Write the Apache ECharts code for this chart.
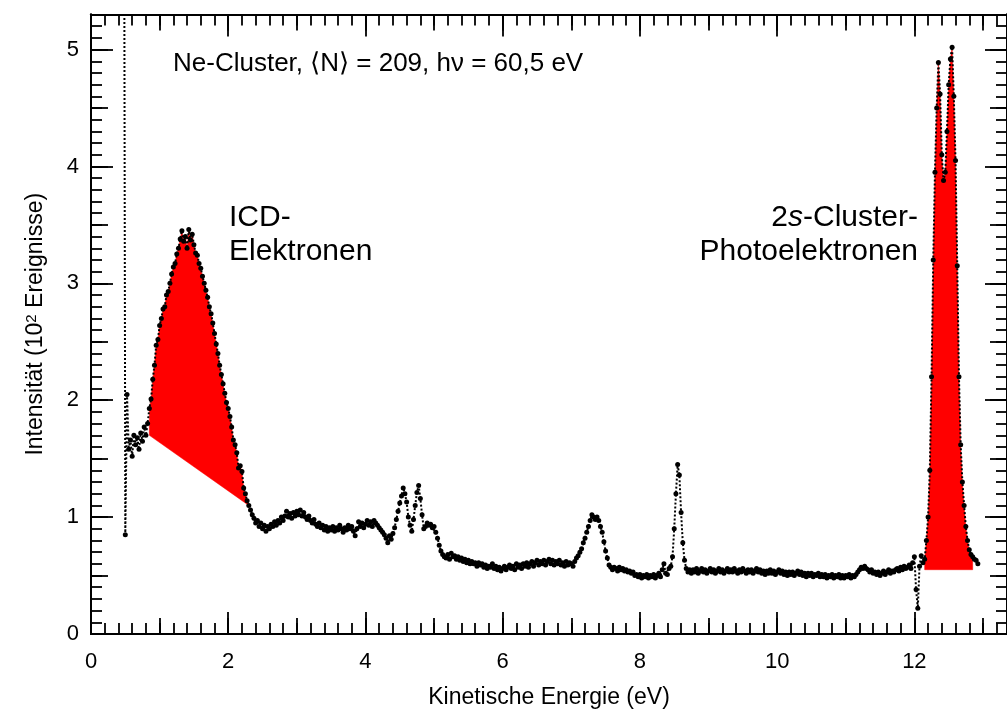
<!DOCTYPE html>
<html><head><meta charset="utf-8">
<script src="https://cdn.jsdelivr.net/npm/echarts@6/dist/echarts.min.js"></script>
<style>html,body{margin:0;padding:0;background:#fff}#c{width:1007px;height:716px}</style>
</head><body><div id="c"></div>
<script>
// ---- data (kinetic energy grid step, eV) ----
const energyStep = 0.025;

// 0.475 .. 0.825 eV (first point is off-scale: vertical dotted line)
const spikeStart = 0.475;
const spikeIntensity = [9.0, 0.85, 2.05, 1.58, 1.66, 1.52, 1.70, 1.62, 1.68, 1.58, 1.72, 1.65, 1.77, 1.70, 1.80];

// 0.850 .. 2.300 eV  (ICD electrons)
const icdStart = 0.850;
const icdIntensity = [
  1.93, 2.01, 2.18, 2.30, 2.47, 2.52, 2.64, 2.70,
  2.78, 2.80, 2.90, 2.93, 3.00, 3.08, 3.14, 3.17,
  3.25, 3.30, 3.38, 3.45, 3.36, 3.40, 3.30, 3.46,
  3.37, 3.42, 3.33, 3.26, 3.24, 3.17, 3.13, 3.06,
  3.00, 2.94, 2.88, 2.80, 2.74, 2.66, 2.57, 2.48,
  2.40, 2.30, 2.22, 2.14, 2.06, 1.98, 1.93, 1.86,
  1.77, 1.66, 1.62, 1.55, 1.42, 1.44, 1.39, 1.25,
  1.20, 1.14, 1.10
];

// 2.325 .. 6.000 eV
const midStart = 2.325;
const midIntensity = [
  1.06, 1.02, 0.99, 0.95, 0.97, 0.92, 0.95, 0.90,
  0.93, 0.88, 0.92, 0.90, 0.94, 0.92, 0.96, 0.93,
  0.97, 0.95, 1.00, 0.97, 1.01, 1.05, 1.00, 1.03,
  0.99, 1.04, 1.01, 1.05, 1.02, 1.06, 1.01, 1.04,
  1.00, 0.98, 1.01, 0.97, 0.95, 0.98, 0.94, 0.92,
  0.95, 0.91, 0.93, 0.89, 0.92, 0.88, 0.91, 0.89,
  0.92, 0.88, 0.91, 0.89, 0.93, 0.90, 0.87, 0.91,
  0.89, 0.93, 0.90, 0.92, 0.88, 0.84, 0.90, 0.96,
  0.92, 0.95, 0.91, 0.94, 0.97, 0.93, 0.96, 0.92,
  0.97, 0.95, 0.93, 0.91, 0.89, 0.87, 0.85, 0.82,
  0.78, 0.84, 0.81, 0.86, 0.91, 0.98, 1.05, 1.12,
  1.18, 1.25, 1.20, 1.13, 1.00, 0.93, 0.88, 0.98,
  1.10, 1.21, 1.27, 1.16, 1.02, 0.90, 0.92, 0.95,
  0.93, 0.94, 0.91, 0.92, 0.87, 0.82, 0.76, 0.71,
  0.68, 0.66, 0.65, 0.68, 0.64, 0.69, 0.66, 0.67,
  0.64, 0.66, 0.63, 0.65, 0.62, 0.64, 0.61, 0.63,
  0.60, 0.62, 0.60, 0.61, 0.58, 0.61, 0.59, 0.60,
  0.57, 0.59, 0.56, 0.58, 0.57, 0.60, 0.56, 0.58,
  0.55, 0.57, 0.54, 0.56
];

// 6.025 .. 9.300 eV
const highStart = 6.025;
const highIntensity = [
  0.58, 0.55, 0.57, 0.59, 0.56, 0.58, 0.55, 0.60,
  0.57, 0.59, 0.56, 0.60, 0.58, 0.61, 0.57, 0.60,
  0.62, 0.58, 0.61, 0.63, 0.59, 0.62, 0.60, 0.63,
  0.59, 0.62, 0.64, 0.60, 0.63, 0.59, 0.62, 0.60,
  0.63, 0.59, 0.61, 0.58, 0.62, 0.59, 0.61, 0.60,
  0.58, 0.62, 0.65, 0.67, 0.70, 0.73, 0.78, 0.82,
  0.87, 0.92, 0.97, 1.02, 1.00, 0.98, 1.00, 0.97,
  0.92, 0.87, 0.79, 0.71, 0.65, 0.59, 0.57, 0.55,
  0.57, 0.56, 0.54, 0.57, 0.55, 0.56, 0.54, 0.55,
  0.53, 0.54, 0.52, 0.53, 0.50, 0.51, 0.49, 0.51,
  0.48, 0.50, 0.49, 0.51, 0.48, 0.50, 0.49, 0.51,
  0.48, 0.50, 0.52, 0.49, 0.55, 0.60, 0.52, 0.51,
  0.56, 0.58, 0.66, 0.90, 1.20, 1.45, 1.36, 1.04,
  0.78, 0.63, 0.56, 0.53, 0.55, 0.52, 0.55, 0.53,
  0.56, 0.52, 0.54, 0.56, 0.53, 0.55, 0.52, 0.54,
  0.56, 0.53, 0.55, 0.52, 0.54, 0.56, 0.53, 0.55,
  0.52, 0.54, 0.56, 0.53
];

// 9.325 .. 12.150 eV
const lateStart = 9.325;
const lateIntensity = [
  0.55, 0.53, 0.56, 0.54, 0.52, 0.55, 0.53, 0.56,
  0.54, 0.52, 0.55, 0.53, 0.55, 0.52, 0.54, 0.56,
  0.53, 0.55, 0.52, 0.54, 0.51, 0.54, 0.52, 0.55,
  0.52, 0.54, 0.51, 0.53, 0.55, 0.52, 0.54, 0.51,
  0.53, 0.50, 0.53, 0.51, 0.53, 0.50, 0.52, 0.54,
  0.51, 0.53, 0.50, 0.52, 0.49, 0.52, 0.50, 0.52,
  0.49, 0.51, 0.50, 0.52, 0.49, 0.51, 0.49, 0.51,
  0.48, 0.50, 0.49, 0.51, 0.48, 0.50, 0.49, 0.51,
  0.48, 0.50, 0.48, 0.50, 0.49, 0.51, 0.48, 0.50,
  0.49, 0.51, 0.53, 0.55, 0.57, 0.56, 0.58, 0.56,
  0.55, 0.53, 0.55, 0.52, 0.53, 0.51, 0.53, 0.50,
  0.52, 0.54, 0.51, 0.53, 0.55, 0.52, 0.54, 0.53,
  0.55, 0.56, 0.54, 0.57, 0.55, 0.58, 0.56, 0.57,
  0.59, 0.56, 0.61, 0.66, 0.38, 0.22, 0.58, 0.67,
  0.61, 0.64
];

// 12.175 .. 12.925 eV (2s cluster photoelectrons)
const clusterStart = 12.175;
const clusterIntensity = [
  0.80, 1.00, 1.40, 2.20, 3.20, 3.95, 4.50, 4.89,
  4.62, 4.10, 3.88, 3.95, 4.30, 4.70, 4.92, 5.02,
  4.60, 4.05, 3.15, 2.20, 1.62, 1.30, 1.10, 0.92,
  0.80, 0.72, 0.68, 0.66, 0.64, 0.63, 0.60
];

// background lines under the red areas: [energy, intensity] end points
const icdBackground = [[0.85, 1.70], [2.30, 1.10]];
const clusterBackground = [[12.15, 0.55], [12.85, 0.55]];

const xLabelTicks = 2, yLabelTicks = 1;
const xAxisName = 'Kinetische Energie (eV)';
const annotation = 'Ne-Cluster, \u27E8N\u27E9 = 209, h\u03BD = 60,5 eV';

// ---- build ----
const segments = [
  [spikeStart, spikeIntensity], [icdStart, icdIntensity], [midStart, midIntensity],
  [highStart, highIntensity], [lateStart, lateIntensity], [clusterStart, clusterIntensity]
];
const points = [];
segments.forEach(([s, vals]) => vals.forEach((v, i) => points.push([+(s + i * energyStep).toFixed(3), v])));
const fillRegions = [icdBackground, clusterBackground];

const FONT = '"Liberation Sans", Arial, Helvetica, sans-serif';
const X_MAX = 13.35, Y_MAX = 5.3;

function xAx(pos, interval, len, label) {
  return {
    type: 'value', position: pos, min: 0, max: X_MAX, interval: interval,
    axisLine: { show: true, onZero: false, lineStyle: { color: '#000', width: 2 } },
    axisTick: { show: true, inside: true, length: len, lineStyle: { color: '#000', width: 1.8 } },
    axisLabel: { show: label, showMaxLabel: false, margin: 17, color: '#000', fontSize: 22, fontFamily: FONT },
    splitLine: { show: false },
    name: label ? xAxisName : '', nameLocation: 'middle', nameGap: 52,
    nameTextStyle: { color: '#000', fontSize: 23, fontFamily: FONT }
  };
}
function yAx(pos, interval, len, label) {
  return {
    type: 'value', position: pos, min: 0, max: Y_MAX, interval: interval,
    axisLine: { show: true, onZero: false, lineStyle: { color: '#000', width: 2 } },
    axisTick: { show: true, inside: true, length: len, lineStyle: { color: '#000', width: 1.8 } },
    axisLabel: { show: label, showMaxLabel: false, margin: 12, color: '#000', fontSize: 22, fontFamily: FONT },
    splitLine: { show: false },
    name: label ? '{t|Intensit\u00E4t (10}{s|2}{t| Ereignisse)}' : '',
    nameLocation: 'middle', nameGap: 44, nameRotate: 90,
    nameTextStyle: { color: '#000', rich: {
      t: { fontSize: 23, fontFamily: FONT, color: '#000' },
      s: { fontSize: 15, fontFamily: FONT, color: '#000', verticalAlign: 'top' }
    } }
  };
}

const chart = echarts.init(document.getElementById('c'), null, { renderer: 'canvas' });
chart.setOption({
  animation: false,
  backgroundColor: '#fff',
  grid: { left: 91, top: 14.5, width: 921, height: 619.5, containLabel: false },
  xAxis: [
    xAx('bottom', xLabelTicks, 22, true), xAx('bottom', 1, 16, false), xAx('bottom', 0.2, 11, false),
    xAx('top', xLabelTicks, 22, false), xAx('top', 1, 16, false), xAx('top', 0.2, 11, false)
  ],
  yAxis: [
    yAx('left', yLabelTicks, 22, true), yAx('left', 0.5, 17, false), yAx('left', 0.1, 11, false),
    yAx('right', yLabelTicks, 22, false), yAx('right', 0.5, 17, false), yAx('right', 0.1, 11, false)
  ],
  series: [
    {
      type: 'custom', xAxisIndex: 0, yAxisIndex: 0, z: 2, silent: true,
      data: fillRegions.map(r => r[0]),
      renderItem: function (params, api) {
        const r = fillRegions[params.dataIndex];
        const x0 = r[0][0] - 1e-6, x1 = r[1][0] + 1e-6;
        const pts = [api.coord(r[0])];
        points.forEach(p => { if (p[0] >= x0 && p[0] <= x1) pts.push(api.coord(p)); });
        pts.push(api.coord(r[1]));
        return { type: 'polygon', shape: { points: pts }, style: { fill: '#ff0000', stroke: '#ff0000', lineWidth: 0.5 } };
      }
    },
    {
      type: 'line', xAxisIndex: 0, yAxisIndex: 0, z: 3, data: points,
      symbol: 'circle', symbolSize: 5, showSymbol: true,
      itemStyle: { color: '#000' },
      lineStyle: { color: '#000', width: 2, type: 'dotted' },
      clip: true
    }
  ],
  graphic: [
    { type: 'text', x: 173, y: 64, z: 10, style: { text: annotation, font: '26px ' + FONT, fill: '#000', verticalAlign: 'middle' } },
    { type: 'text', x: 229, y: 235, z: 10, style: { text: 'ICD-\nElektronen', font: '30px ' + FONT, lineHeight: 34, fill: '#000', verticalAlign: 'middle' } },
    { type: 'text', x: 918, y: 235, z: 10, style: {
      text: '{n|2}{i|s}{n|-Cluster-}\n{n|Photoelektronen}', align: 'right', verticalAlign: 'middle',
      rich: { n: { fontSize: 30, fontFamily: FONT, lineHeight: 34, fill: '#000' }, i: { fontSize: 30, fontFamily: FONT, fontStyle: 'italic', lineHeight: 34, fill: '#000' } }
    } }
  ]
});
</script></body></html>
